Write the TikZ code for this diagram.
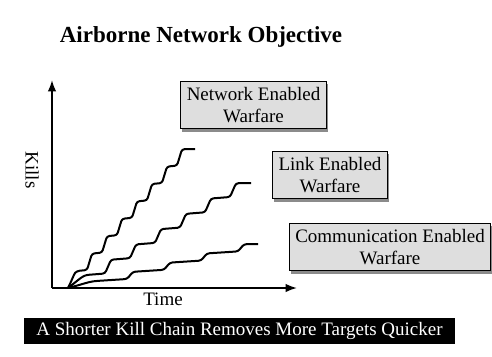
\documentclass[tikz,border=0pt]{standalone}
\usepackage{fontspec}
\setmainfont{Liberation Serif}
\usetikzlibrary{
  arrows.meta,
  positioning,
  shadows
}
\definecolor{boxfill}{RGB}{222, 222, 222}
\definecolor{shadowcolor}{RGB}{90, 90, 90}
\definecolor{inkcolor}{RGB}{0, 0, 0}
\definecolor{bannercolor}{RGB}{0, 0, 0}
\tikzset{
titletext/.style={
  font=\bfseries\fontsize{23}{27}\selectfont,
  text=inkcolor
},
labeltext/.style={
  align=center,
  font=\fontsize{19}{22}\selectfont,
  text=inkcolor
},
wareblock/.style={
  draw=inkcolor,
  line width=0.9pt,
  fill=boxfill,
  inner xsep=6pt,
  inner ysep=6pt,
  drop shadow={shadow xshift=1.5pt, shadow yshift=-3pt, fill=shadowcolor, opacity=0.7},
  labeltext
},
bannerblock/.style={
  fill=bannercolor,
  text=white,
  font=\fontsize{19}{22}\selectfont,
  minimum width=431pt,
  minimum height=26pt
},
axis/.style={
  -{Latex[length=4mm,width=3mm]},
  line width=1.8pt,
  draw=inkcolor
},
stairs/.style={
  line width=2pt,
  draw=inkcolor,
  rounded corners=2.5pt
}
}

\begin{document}
\begin{tikzpicture}[x=1pt, y=-1pt]
  \useasboundingbox (0,0) rectangle (492,356);

  % title
  \node[titletext] (title) at (201,37) {Airborne Network Objective};

  % axes
  \coordinate (origin) at (52,288);
  \coordinate (ytip) at (52,80);
  \coordinate (xtip) at (297,288);
  \draw[axis] (origin) -- (ytip);
  \draw[axis] (origin) -- (xtip);
  \node[labeltext, rotate=-90] (kills) at (32,170) {Kills};
  \node[labeltext] (time) at (163,299) {Time};

  % kill curves
  \coordinate (start) at (68,288);
  \draw[stairs] (start) .. controls (72,280) and (74,274) .. ++(9,-17)
    \foreach \i in {1,...,7} { -- ++(10,-1) -- ++(5,-16.4) } -- ++(13,0);
  \draw[stairs] (start) .. controls (76,282) and (80,278) .. ++(18,-13)
    \foreach \i in {1,...,6} { -- ++(19,-1.5) -- ++(6,-13.8) } -- ++(15,0);
  \draw[stairs] (start) .. controls (80,285) and (88,282) .. ++(28,-7)
    \foreach \i in {1,...,4} { -- ++(31,-2) -- ++(6,-7.2) } -- ++(14,0);

  % curve labels
  \node[wareblock] (network) at (253.5,105) {Network Enabled\\Warfare};
  \node[wareblock] (link) at (330,175) {Link Enabled\\Warfare};
  \node[wareblock] (comm) at (390,247) {Communication Enabled\\Warfare};

  % banner
  \node[bannerblock] (banner) at (239.5,331)
    {A Shorter Kill Chain Removes More Targets Quicker};
\end{tikzpicture}
\end{document}
